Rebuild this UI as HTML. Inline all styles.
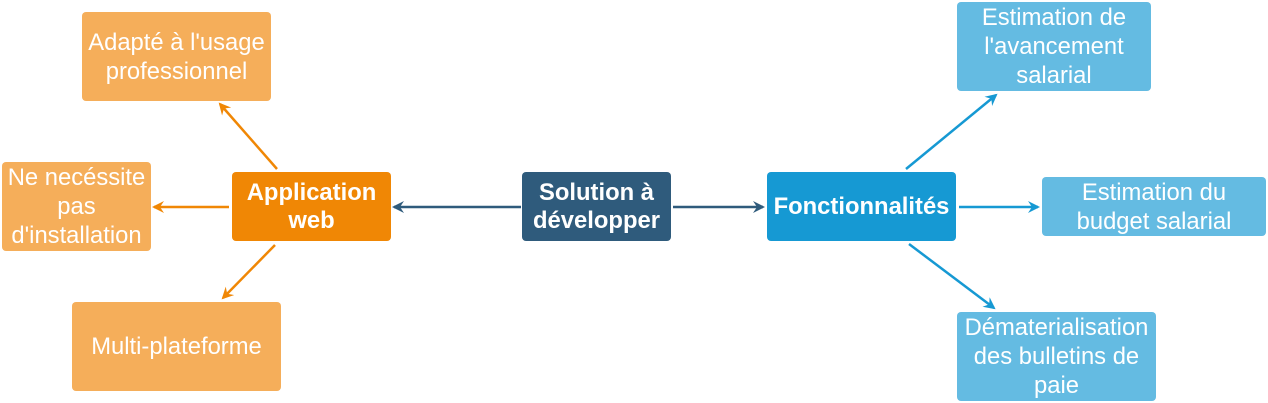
<!DOCTYPE html>
<html><head><meta charset="utf-8"><style>
body{margin:0;width:1268px;height:403px;background:#fff;position:relative;overflow:hidden;font-family:"Liberation Sans",sans-serif}
.b{position:absolute;display:flex;align-items:center;justify-content:center;text-align:center;color:#fff;font-size:23.8px;line-height:29px;border-radius:4px;box-sizing:border-box;white-space:nowrap}
.lo{background:#F5AE5A}.lb{background:#64BBE2}
.bold{font-weight:bold}
svg{position:absolute;left:0;top:0}
</style></head><body>
<svg width="1268" height="403">
<defs>
<marker id="mo" markerWidth="12" markerHeight="12" refX="10" refY="6" orient="auto" markerUnits="userSpaceOnUse"><path d="M0,0 L12,6 L0,12 L4,6z" fill="#F08705"/></marker>
<marker id="md" markerWidth="12" markerHeight="12" refX="10" refY="6" orient="auto" markerUnits="userSpaceOnUse"><path d="M0,0 L12,6 L0,12 L4,6z" fill="#2F5B7C"/></marker>
<marker id="mb" markerWidth="12" markerHeight="12" refX="10" refY="6" orient="auto" markerUnits="userSpaceOnUse"><path d="M0,0 L12,6 L0,12 L4,6z" fill="#1699D3"/></marker>
</defs>
<g stroke-width="2.5" fill="none">
<line x1="277" y1="169" x2="220" y2="104" stroke="#F08705" marker-end="url(#mo)"/>
<line x1="229" y1="207" x2="154" y2="207" stroke="#F08705" marker-end="url(#mo)"/>
<line x1="275" y1="245" x2="223" y2="298" stroke="#F08705" marker-end="url(#mo)"/>
<line x1="521" y1="207" x2="394" y2="207" stroke="#2F5B7C" marker-end="url(#md)"/>
<line x1="673" y1="207" x2="763" y2="207" stroke="#2F5B7C" marker-end="url(#md)"/>
<line x1="906" y1="169" x2="996" y2="95" stroke="#1699D3" marker-end="url(#mb)"/>
<line x1="959" y1="207" x2="1038" y2="207" stroke="#1699D3" marker-end="url(#mb)"/>
<line x1="909" y1="244" x2="994" y2="308" stroke="#1699D3" marker-end="url(#mb)"/>
</g></svg>
<div class="b lo" style="left:82px;top:12px;width:189px;height:89px">Adapté à l'usage<br>professionnel</div>
<div class="b lo" style="left:2px;top:162px;width:149px;height:89px">Ne necéssite<br>pas<br>d'installation</div>
<div class="b lo" style="left:72px;top:302px;width:209px;height:89px">Multi-plateforme</div>
<div class="b bold" style="left:232px;top:172px;width:159px;height:69px;background:#F08705;line-height:28px">Application<br>web</div>
<div class="b bold" style="left:522px;top:172px;width:149px;height:69px;background:#2F5B7C;line-height:28px">Solution à<br>développer</div>
<div class="b bold" style="left:767px;top:172px;width:189px;height:69px;background:#1699D3">Fonctionnalités</div>
<div class="b lb" style="left:957px;top:2px;width:194px;height:89px">Estimation de<br>l'avancement<br>salarial</div>
<div class="b lb" style="left:1042px;top:177px;width:224px;height:59px">Estimation du<br>budget salarial</div>
<div class="b lb" style="left:957px;top:312px;width:199px;height:89px">Dématerialisation<br>des bulletins de<br>paie</div>
</body></html>
